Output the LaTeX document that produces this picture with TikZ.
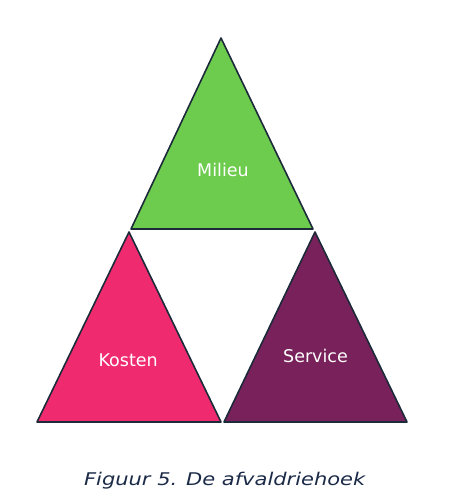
\documentclass[tikz,border=0pt]{standalone}
\usepackage{fontspec}
\setmainfont{DejaVu Sans}
\newfontfamily\capfont[FakeStretch=1.2]{DejaVu Sans}
\definecolor{milieu}{HTML}{6DCB4E}
\definecolor{kosten}{HTML}{EF2A6E}
\definecolor{service}{HTML}{78215A}
\definecolor{edge}{HTML}{1C2A3A}
\definecolor{captioncol}{HTML}{1B2A47}
\begin{document}
\begin{tikzpicture}[x=1pt,y=-1pt,
  tri/.style={draw=edge,line width=1.6pt,line join=round},
  lbl/.style={text=white,font=\fontsize{17.5}{20}\selectfont,inner sep=0pt,anchor=base},
  captext/.style={text=captioncol,font=\capfont\fontsize{17.5}{21}\selectfont\itshape,inner sep=0pt,anchor=base}]
\useasboundingbox (0,0) rectangle (456,501);
\fill[white] (0,0) rectangle (456,501);
% top triangle
\coordinate (tA) at (221,38);
\coordinate (tL) at (131,229);
\coordinate (tR) at (313,229);
\filldraw[tri,fill=milieu] (tA) -- (tR) -- (tL) -- cycle;
% left triangle
\coordinate (lA) at (129,232);
\coordinate (lL) at (37,422);
\coordinate (lR) at (221,422);
\filldraw[tri,fill=kosten] (lA) -- (lR) -- (lL) -- cycle;
% right triangle
\coordinate (rA) at (315,232);
\coordinate (rL) at (224,422);
\coordinate (rR) at (407,422);
\filldraw[tri,fill=service] (rA) -- (rR) -- (rL) -- cycle;
\node[lbl] (milieu) at (223,176) {Milieu};
\node[lbl] (kosten) at (128.2,366.7) {Kosten};
\node[lbl] (service) at (315.5,362.7) {Service};
\node[captext] (caption) at (224.7,485.7) {Figuur 5. De afvaldriehoek};
\end{tikzpicture}
\end{document}
